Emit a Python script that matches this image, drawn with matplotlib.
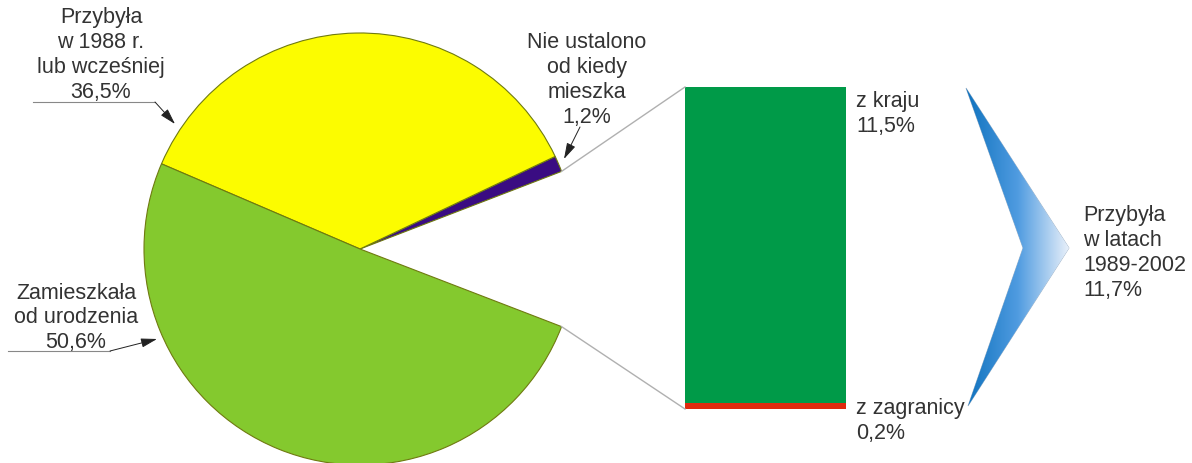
import numpy as np
import matplotlib.pyplot as plt
from matplotlib.patches import Wedge, Polygon
from matplotlib.colors import LinearSegmentedColormap

# data (percent)
pie_labels = ['Nie ustalono\nod kiedy\nmieszka\n1,2%',
              'Przybyła\nw 1988 r.\nlub wcześniej\n36,5%',
              'Zamieszkała\nod urodzenia\n50,6%']
pie_values = [1.2, 36.5, 50.6]
pie_colors = ['#3a0c82', '#fcfc00', '#84c92e']
gap_value = 11.7
gap_label = 'Przybyła\nw latach\n1989-2002\n11,7%'

bar_labels = ['z zagranicy\n0,2%', 'z kraju\n11,5%']
bar_values = [0.2, 11.5]
bar_colors = ['#e02a0e', '#009a48']

plt.rcParams['font.family'] = ['Liberation Sans', 'DejaVu Sans']
txt = '#333333'
fs = 15.5
ls = 1.23

fig = plt.figure(figsize=(11.92, 4.64), dpi=100)
ax = fig.add_axes([0, 0, 1, 1])
ax.axis('off')

# pie, with the "gap" wedge removed and centred on the right
cx, cy, r = 360, 250, 216
total = sum(pie_values) + gap_value
a = gap_value / total * 360 / 2
for v, c in zip(pie_values, pie_colors):
    b = a + v / total * 360
    # y axis is inverted, so negate the angles
    ax.add_patch(Wedge((cx, cy), r, -b, -a, facecolor=c,
                       edgecolor='#6f7a10', lw=0.8))
    a = b

# stacked bar for the gap wedge
bx0, bx1, btop, bbot = 685, 846, 88, 410
scale = (bbot - btop) / sum(bar_values)
bottom = bbot
for v, c in zip(bar_values, bar_colors):
    ax.bar(bx0, -v * scale, width=bx1 - bx0, bottom=bottom, align='edge',
           color=c, edgecolor='none')
    bottom -= v * scale

# connector lines
g = gap_value / total * np.pi
p_top = (cx + r * np.cos(g), cy - r * np.sin(g))
p_bot = (cx + r * np.cos(g), cy + r * np.sin(g))
ax.plot([p_top[0], bx0], [p_top[1], btop], color='#b0b0b0', lw=1)
ax.plot([p_bot[0], bx0], [p_bot[1], bbot], color='#b0b0b0', lw=1)

# bar labels
ax.text(bx1 + 10, 114, bar_labels[1], ha='left', va='center',
        fontsize=fs, color=txt, linespacing=ls)
ax.text(bx1 + 10, 421, bar_labels[0], ha='left', va='center',
        fontsize=fs, color=txt, linespacing=ls)

# chevron with gradient
chev = [(966, 89), (1069, 249), (968, 407), (1023, 249)]
poly = Polygon(chev, closed=True, facecolor='none', edgecolor='#a0b4c8', lw=0.6)
ax.add_patch(poly)
cmap = LinearSegmentedColormap.from_list('chev', ['#0f72be', '#4f9be0', '#e8f0fa'])
grad = np.linspace(0, 1, 256).reshape(1, -1)
im = ax.imshow(grad, cmap=cmap, extent=(966, 1069, 407, 89), aspect='auto',
               zorder=1)
im.set_clip_path(poly)

ax.text(1083, 253, gap_label, ha='left', va='center', fontsize=fs,
        color=txt, linespacing=ls)

# pie labels with arrows
arrow = dict(arrowstyle='-|>,head_length=0.7,head_width=0.2', color='#222222',
             lw=0.7, mutation_scale=14, shrinkA=0, shrinkB=0)
ax.text(101, 55, pie_labels[1], ha='center', va='center', fontsize=fs,
        color=txt, linespacing=ls)
ax.plot([33, 155], [103, 103], color='#888888', lw=0.8)
ax.annotate('', xy=(175, 125), xytext=(155, 103), arrowprops=arrow)

ax.text(76, 318, pie_labels[2], ha='center', va='center', fontsize=fs,
        color=txt, linespacing=ls)
ax.plot([8, 110], [352, 352], color='#888888', lw=0.8)
ax.annotate('', xy=(157, 340), xytext=(110, 352), arrowprops=arrow)

ax.text(587, 80, pie_labels[0], ha='center', va='center', fontsize=fs,
        color=txt, linespacing=ls)
ax.annotate('', xy=(564, 160), xytext=(580, 128), arrowprops=arrow)

ax.set_xlim(0, 1192)
ax.set_ylim(464, 0)
ax.set_aspect('equal')

fig.savefig('out.png', dpi=100)
